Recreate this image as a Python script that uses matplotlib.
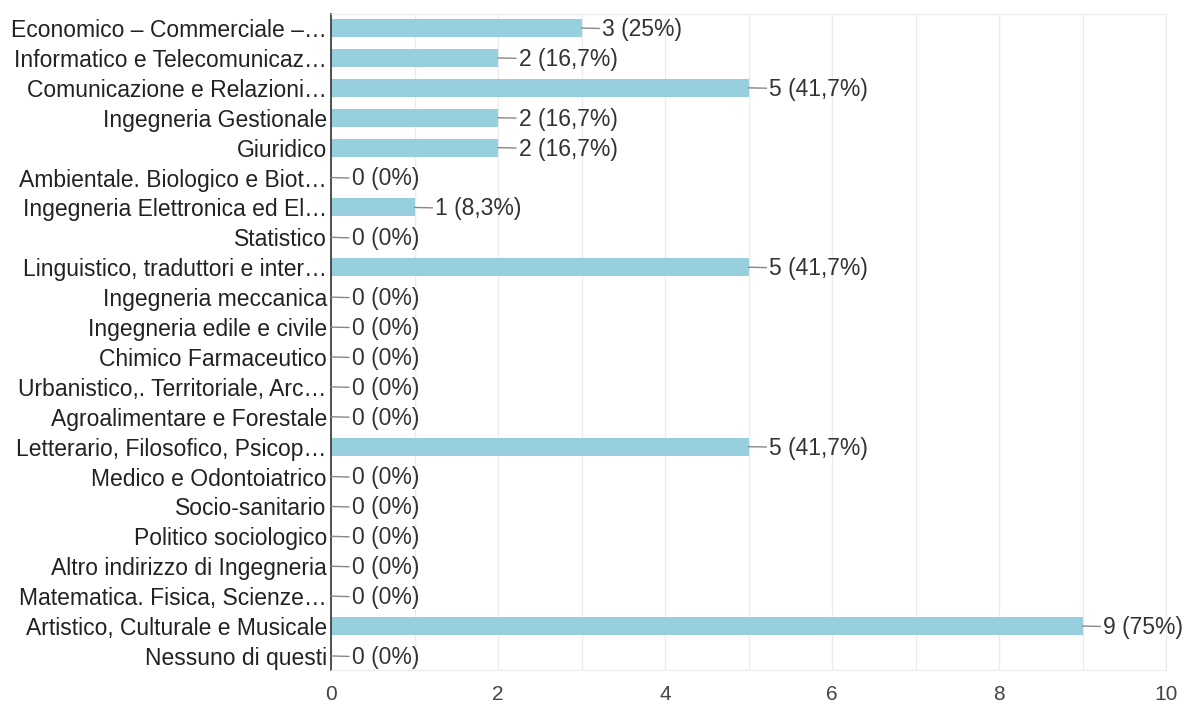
import matplotlib
matplotlib.use("Agg")
import matplotlib.pyplot as plt
from matplotlib.ticker import MultipleLocator

# categories (truncated like the original form summary)
categories = [
    "Economico – Commerciale –…",
    "Informatico e Telecomunicaz…",
    "Comunicazione e Relazioni…",
    "Ingegneria Gestionale",
    "Giuridico",
    "Ambientale. Biologico e Biot…",
    "Ingegneria Elettronica ed El…",
    "Statistico",
    "Linguistico, traduttori e inter…",
    "Ingegneria meccanica",
    "Ingegneria edile e civile",
    "Chimico Farmaceutico",
    "Urbanistico,. Territoriale, Arc…",
    "Agroalimentare e Forestale",
    "Letterario, Filosofico, Psicop…",
    "Medico e Odontoiatrico",
    "Socio-sanitario",
    "Politico sociologico",
    "Altro indirizzo di Ingegneria",
    "Matematica. Fisica, Scienze…",
    "Artistico, Culturale e Musicale",
    "Nessuno di questi",
]
counts = [3, 2, 5, 2, 2, 0, 1, 0, 5, 0, 0, 0, 0, 0, 5, 0, 0, 0, 0, 0, 9, 0]
percents = ["25%", "16,7%", "41,7%", "16,7%", "16,7%", "0%", "8,3%", "0%",
            "41,7%", "0%", "0%", "0%", "0%", "0%", "41,7%", "0%", "0%", "0%",
            "0%", "0%", "75%", "0%"]
x_ticks = [0, 2, 4, 6, 8, 10]

plt.rcParams['font.family'] = ['Liberation Sans', 'DejaVu Sans']

fig = plt.figure(figsize=(11.87, 7.06), dpi=100)
ax = fig.add_axes([331 / 1187, 1 - 670 / 706, (1166 - 331) / 1187, (670 - 14) / 706])

ypos = list(range(len(categories)))
ax.barh(ypos, counts, height=0.6, color="#97cfdf", zorder=2)

for y, c, p in zip(ypos, counts, percents):
    ax.annotate(f"{c} ({p})", xy=(c, y), xytext=(15, -1), textcoords="offset points",
                va="center", ha="left", fontsize=16.5, color="#333333",
                arrowprops=dict(arrowstyle="-", color="#888888", lw=1,
                                shrinkA=0, shrinkB=0))

ax.set_xlim(0, 10)
ax.set_ylim(21.47, -0.47)
ax.set_yticks(ypos)
ax.set_yticklabels(categories, fontsize=16.5, color="#222222")
ax.set_xticks(x_ticks)
ax.set_xticklabels([str(t) for t in x_ticks], fontsize=15, color="#444444")
ax.xaxis.set_minor_locator(MultipleLocator(1))
ax.grid(axis="x", which="both", color="#ebebeb", lw=1, zorder=0)
ax.tick_params(axis="both", which="both", length=0)
ax.tick_params(axis="y", pad=3)
ax.tick_params(axis="x", pad=11)

for side in ["top", "bottom", "right"]:
    ax.spines[side].set_color("#ebebeb")
ax.spines["left"].set_color("#333333")
ax.spines["left"].set_linewidth(1.2)

fig.savefig("out.png", dpi=100)
